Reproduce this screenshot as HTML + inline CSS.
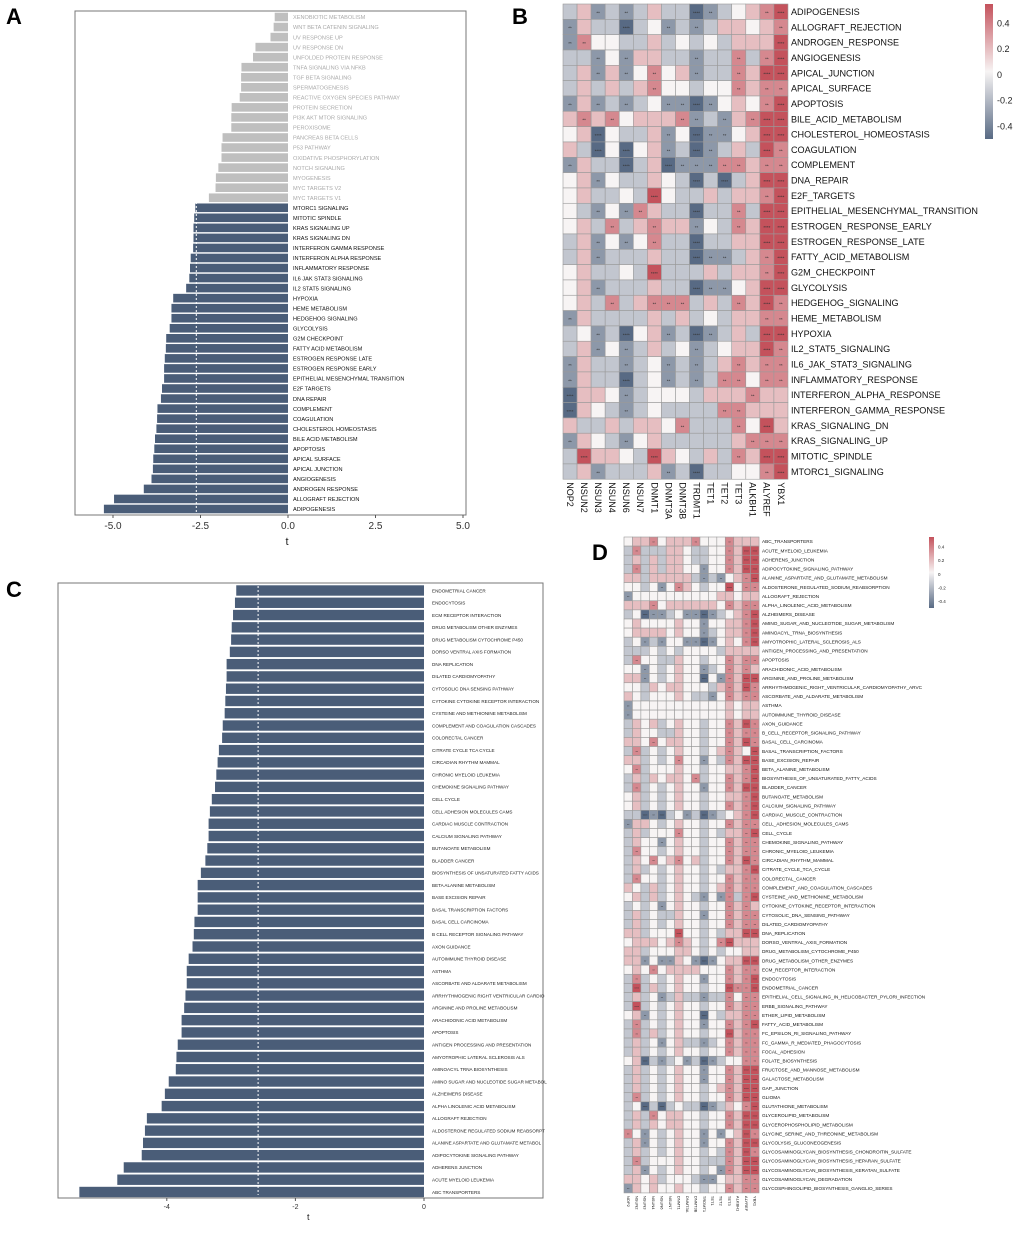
<!DOCTYPE html>
<html><head><meta charset="utf-8">
<style>
html,body{margin:0;padding:0;background:#fff;}
svg{display:block;font-family:"Liberation Sans",sans-serif;}
</style></head>
<body>
<svg id="fig" width="1020" height="1233" viewBox="0 0 1020 1233" xmlns="http://www.w3.org/2000/svg">
<text x="6" y="24" font-size="22" font-weight="bold">A</text>
<text x="512" y="24" font-size="22" font-weight="bold">B</text>
<text x="6" y="597" font-size="22" font-weight="bold">C</text>
<text x="592" y="560" font-size="22" font-weight="bold">D</text>
<g id="pa"></g>
<g id="pb"></g>
<g id="pc"></g>
<g id="pd"></g>
</svg>
<script>
// ---------- Panel A data ----------
const aLabels=["XENOBIOTIC METABOLISM","WNT BETA CATENIN SIGNALING","UV RESPONSE UP","UV RESPONSE DN","UNFOLDED PROTEIN RESPONSE","TNFA SIGNALING VIA NFKB","TGF BETA SIGNALING","SPERMATOGENESIS","REACTIVE OXYGEN SPECIES PATHWAY","PROTEIN SECRETION","PI3K AKT MTOR SIGNALING","PEROXISOME","PANCREAS BETA CELLS","P53 PATHWAY","OXIDATIVE PHOSPHORYLATION","NOTCH SIGNALING","MYOGENESIS","MYC TARGETS V2","MYC TARGETS V1","MTORC1 SIGNALING","MITOTIC SPINDLE","KRAS SIGNALING UP","KRAS SIGNALING DN","INTERFERON GAMMA RESPONSE","INTERFERON ALPHA RESPONSE","INFLAMMATORY RESPONSE","IL6 JAK STAT3 SIGNALING","IL2 STAT5 SIGNALING","HYPOXIA","HEME METABOLISM","HEDGEHOG SIGNALING","GLYCOLYSIS","G2M CHECKPOINT","FATTY ACID METABOLISM","ESTROGEN RESPONSE LATE","ESTROGEN RESPONSE EARLY","EPITHELIAL MESENCHYMAL TRANSITION","E2F TARGETS","DNA REPAIR","COMPLEMENT","COAGULATION","CHOLESTEROL HOMEOSTASIS","BILE ACID METABOLISM","APOPTOSIS","APICAL SURFACE","APICAL JUNCTION","ANGIOGENESIS","ANDROGEN RESPONSE","ALLOGRAFT REJECTION","ADIPOGENESIS"];
const aValues=[-0.38,-0.41,-0.5,-0.93,-1.0,-1.33,-1.34,-1.34,-1.38,-1.61,-1.62,-1.62,-1.87,-1.9,-1.9,-1.99,-2.06,-2.07,-2.26,-2.65,-2.68,-2.7,-2.7,-2.71,-2.78,-2.8,-2.82,-2.91,-3.28,-3.33,-3.33,-3.38,-3.48,-3.49,-3.52,-3.54,-3.54,-3.6,-3.63,-3.73,-3.74,-3.76,-3.8,-3.82,-3.85,-3.86,-3.9,-4.12,-4.97,-5.26];
const aTicks=[-5,-2.5,0,2.5,5];
const aTickLabels=["-5.0","-2.5","0.0","2.5","5.0"];
const aThreshold=-2.62;

// ---------- Panel C data ----------
const cLabels=["ENDOMETRIAL CANCER","ENDOCYTOSIS","ECM RECEPTOR INTERACTION","DRUG METABOLISM OTHER ENZYMES","DRUG METABOLISM CYTOCHROME P450","DORSO VENTRAL AXIS FORMATION","DNA REPLICATION","DILATED CARDIOMYOPATHY","CYTOSOLIC DNA SENSING PATHWAY","CYTOKINE CYTOKINE RECEPTOR INTERACTION","CYSTEINE AND METHIONINE METABOLISM","COMPLEMENT AND COAGULATION CASCADES","COLORECTAL CANCER","CITRATE CYCLE TCA CYCLE","CIRCADIAN RHYTHM MAMMAL","CHRONIC MYELOID LEUKEMIA","CHEMOKINE SIGNALING PATHWAY","CELL CYCLE","CELL ADHESION MOLECULES CAMS","CARDIAC MUSCLE CONTRACTION","CALCIUM SIGNALING PATHWAY","BUTANOATE METABOLISM","BLADDER CANCER","BIOSYNTHESIS OF UNSATURATED FATTY ACIDS","BETA ALANINE METABOLISM","BASE EXCISION REPAIR","BASAL TRANSCRIPTION FACTORS","BASAL CELL CARCINOMA","B CELL RECEPTOR SIGNALING PATHWAY","AXON GUIDANCE","AUTOIMMUNE THYROID DISEASE","ASTHMA","ASCORBATE AND ALDARATE METABOLISM","ARRHYTHMOGENIC RIGHT VENTRICULAR CARDIO","ARGININE AND PROLINE METABOLISM","ARACHIDONIC ACID METABOLISM","APOPTOSIS","ANTIGEN PROCESSING AND PRESENTATION","AMYOTROPHIC LATERAL SCLEROSIS ALS","AMINOACYL TRNA BIOSYNTHESIS","AMINO SUGAR AND NUCLEOTIDE SUGAR METABOL","ALZHEIMERS DISEASE","ALPHA LINOLENIC ACID METABOLISM","ALLOGRAFT REJECTION","ALDOSTERONE REGULATED SODIUM REABSORPT","ALANINE ASPARTATE AND GLUTAMATE METABOL","ADIPOCYTOKINE SIGNALING PATHWAY","ADHERENS JUNCTION","ACUTE MYELOID LEUKEMIA","ABC TRANSPORTERS"];
const cValues=[-2.92,-2.94,-2.97,-2.99,-3.0,-3.02,-3.07,-3.07,-3.08,-3.09,-3.1,-3.13,-3.14,-3.19,-3.21,-3.23,-3.25,-3.3,-3.33,-3.35,-3.35,-3.37,-3.4,-3.47,-3.52,-3.52,-3.52,-3.57,-3.58,-3.6,-3.66,-3.69,-3.69,-3.71,-3.73,-3.77,-3.77,-3.83,-3.85,-3.86,-3.97,-4.03,-4.08,-4.31,-4.34,-4.37,-4.39,-4.67,-4.77,-5.36];
const cTicks=[-4,-2,0];
const cTickLabels=["-4","-2","0"];
const cThreshold=-2.58;

// ---------- Heatmap data (levels 0..6 => -0.45..0.45) ----------
const genes=["NOP2","NSUN2","NSUN3","NSUN4","NSUN6","NSUN7","DNMT1","DNMT3A","DNMT3B","TRDMT1","TET1","TET2","TET3","ALKBH1","ALYREF","YBX1"];
const bRows=["ADIPOGENESIS","ALLOGRAFT_REJECTION","ANDROGEN_RESPONSE","ANGIOGENESIS","APICAL_JUNCTION","APICAL_SURFACE","APOPTOSIS","BILE_ACID_METABOLISM","CHOLESTEROL_HOMEOSTASIS","COAGULATION","COMPLEMENT","DNA_REPAIR","E2F_TARGETS","EPITHELIAL_MESENCHYMAL_TRANSITION","ESTROGEN_RESPONSE_EARLY","ESTROGEN_RESPONSE_LATE","FATTY_ACID_METABOLISM","G2M_CHECKPOINT","GLYCOLYSIS","HEDGEHOG_SIGNALING","HEME_METABOLISM","HYPOXIA","IL2_STAT5_SIGNALING","IL6_JAK_STAT3_SIGNALING","INFLAMMATORY_RESPONSE","INTERFERON_ALPHA_RESPONSE","INTERFERON_GAMMA_RESPONSE","KRAS_SIGNALING_DN","KRAS_SIGNALING_UP","MITOTIC_SPINDLE","MTORC1_SIGNALING"];
const bLevels=["2412124220123456","1422023121244345","1533224232324446","2213144221225256","2414135341225466","2424245332335455","1412123110134356","4545344451214566","3403224130113466","4203034120124265","1422024011155455","3413224320202466","3422326322424456","3213154220225266","3425245441325466","2413135220224466","2412224220112456","3422326222424456","3412224220113466","3425245552425465","1422224242324455","2312034120124266","2413124231234465","1422123121245455","1422023121255355","0443123332444544","0432123222255444","4224244352225364","1432134222224555","2644326432425466","2412224120223356"];
const bColTicks=[0.4,0.2,0,-0.2,-0.4];
const dRows=["ABC_TRANSPORTERS","ACUTE_MYELOID_LEUKEMIA","ADHERENS_JUNCTION","ADIPOCYTOKINE_SIGNALING_PATHWAY","ALANINE_ASPARTATE_AND_GLUTAMATE_METABOLISM","ALDOSTERONE_REGULATED_SODIUM_REABSORPTION","ALLOGRAFT_REJECTION","ALPHA_LINOLENIC_ACID_METABOLISM","ALZHEIMERS_DISEASE","AMINO_SUGAR_AND_NUCLEOTIDE_SUGAR_METABOLISM","AMINOACYL_TRNA_BIOSYNTHESIS","AMYOTROPHIC_LATERAL_SCLEROSIS_ALS","ANTIGEN_PROCESSING_AND_PRESENTATION","APOPTOSIS","ARACHIDONIC_ACID_METABOLISM","ARGININE_AND_PROLINE_METABOLISM","ARRHYTHMOGENIC_RIGHT_VENTRICULAR_CARDIOMYOPATHY_ARVC","ASCORBATE_AND_ALDARATE_METABOLISM","ASTHMA","AUTOIMMUNE_THYROID_DISEASE","AXON_GUIDANCE","B_CELL_RECEPTOR_SIGNALING_PATHWAY","BASAL_CELL_CARCINOMA","BASAL_TRANSCRIPTION_FACTORS","BASE_EXCISION_REPAIR","BETA_ALANINE_METABOLISM","BIOSYNTHESIS_OF_UNSATURATED_FATTY_ACIDS","BLADDER_CANCER","BUTANOATE_METABOLISM","CALCIUM_SIGNALING_PATHWAY","CARDIAC_MUSCLE_CONTRACTION","CELL_ADHESION_MOLECULES_CAMS","CELL_CYCLE","CHEMOKINE_SIGNALING_PATHWAY","CHRONIC_MYELOID_LEUKEMIA","CIRCADIAN_RHYTHM_MAMMAL","CITRATE_CYCLE_TCA_CYCLE","COLORECTAL_CANCER","COMPLEMENT_AND_COAGULATION_CASCADES","CYSTEINE_AND_METHIONINE_METABOLISM","CYTOKINE_CYTOKINE_RECEPTOR_INTERACTION","CYTOSOLIC_DNA_SENSING_PATHWAY","DILATED_CARDIOMYOPATHY","DNA_REPLICATION","DORSO_VENTRAL_AXIS_FORMATION","DRUG_METABOLISM_CYTOCHROME_P450","DRUG_METABOLISM_OTHER_ENZYMES","ECM_RECEPTOR_INTERACTION","ENDOCYTOSIS","ENDOMETRIAL_CANCER","EPITHELIAL_CELL_SIGNALING_IN_HELICOBACTER_PYLORI_INFECTION","ERBB_SIGNALING_PATHWAY","ETHER_LIPID_METABOLISM","FATTY_ACID_METABOLISM","FC_EPSILON_RI_SIGNALING_PATHWAY","FC_GAMMA_R_MEDIATED_PHAGOCYTOSIS","FOCAL_ADHESION","FOLATE_BIOSYNTHESIS","FRUCTOSE_AND_MANNOSE_METABOLISM","GALACTOSE_METABOLISM","GAP_JUNCTION","GLIOMA","GLUTATHIONE_METABOLISM","GLYCEROLIPID_METABOLISM","GLYCEROPHOSPHOLIPID_METABOLISM","GLYCINE_SERINE_AND_THREONINE_METABOLISM","GLYCOLYSIS_GLUCONEOGENESIS","GLYCOSAMINOGLYCAN_BIOSYNTHESIS_CHONDROITIN_SULFATE","GLYCOSAMINOGLYCAN_BIOSYNTHESIS_HEPARAN_SULFATE","GLYCOSAMINOGLYCAN_BIOSYNTHESIS_KERATAN_SULFATE","GLYCOSAMINOGLYCAN_DEGRADATION","GLYCOSPHINGOLIPID_BIOSYNTHESIS_GANGLIO_SERIES"];
const dLevels=["3445344453335444","2522244322335466","2424244322335466","2524244331335466","4424444421213456","3323135432336355","1333333333344344","4445344444435455","2301123110123456","3433334331334456","3444434331234456","2312133110134356","2223232333324444","2533224332335455","3313234331235454","4413234330315466","3324344333245465","4323334322135455","1333333333334344","1333333333334344","2434234332335465","2433224332335455","4435344332335465","2523234332345436","4423235331325466","3523334332334456","2424344352335456","2523234331335466","3423234332334456","3423234332335456","2201023120123456","1443234332335455","2423335332324456","2433134332335455","2533234332335455","2435345342335465","2423234332324456","2533234332335455","4324234332345455","3424234321315256","2323134332335454","2423224331335455","2423234332335455","4423336332324466","3444345432356444","4423334432323344","4413114310134466","3435344443335455","2523234331335456","2624234332336556","2423124221225355","2623234332335455","3413234330324455","2523234331335456","2524234332336455","2423134221235455","2423234332335455","3402123120123355","2423234331335466","2423234331335466","2423234332345466","2523234332335466","2302023220124356","2425344332335466","2424344332335466","5313234331313465","2413234331335466","2423234332325465","2523334332225466","2413234332315466","4434233321134455","1434334332335455"];

function col(level){
  const v=(level-3)/3;
  const w=[247,244,244], r=[196,82,92], b=[88,106,132];
  const t=Math.abs(v), e=v>=0?r:b;
  return "rgb("+w.map((c,i)=>Math.round(c+(e[i]-c)*t)).join(",")+")";
}
const NS="http://www.w3.org/2000/svg";
function mk(tag,attrs,parent,txt){const el=document.createElementNS(NS,tag);for(const k in attrs)el.setAttribute(k,attrs[k]);if(txt!==undefined)el.textContent=txt;parent.appendChild(el);return el;}

// ---------- Panel A ----------
(function(){
  const g=document.getElementById('pa');
  const x0=75,x1=466,y0=11,y1=515;
  const xA=v=>288+v*35;
  const yA=i=>17+i*(492/49);
  const bg=mk('rect',{x:x0,y:y0,width:x1-x0,height:y1-y0,fill:'#fff',stroke:'#777','stroke-width':1},g);
  
  
  aValues.forEach((v,i)=>{
    const dark=i>=19;
    const r=mk('rect',{x:xA(v),y:yA(i)-4.3,width:xA(0)-xA(v),height:8.6,fill:dark?'#4a5d78':'#bfbfbf'},g);
    
    
    const t=mk('text',{x:xA(0)+5,y:yA(i)+2.2,'font-size':5.6,fill:dark?'#111':'#aaa'},g,aLabels[i]);
    
    
  });
  const th=mk('line',{x1:xA(aThreshold),x2:xA(aThreshold),y1:y0+3,y2:y1-3,stroke:'#fff','stroke-width':1,'stroke-dasharray':'2,2'},g);
  
  
  aTicks.forEach((v,i)=>{
    mk('line',{x1:xA(v),x2:xA(v),y1:y1,y2:y1+3,stroke:'#555'},g);
    const t=mk('text',{x:xA(v),y:y1+14,'font-size':10,'text-anchor':'middle',fill:'#333'},g,aTickLabels[i]);
    
    
  });
  const xt=mk('text',{x:xA(0)-1,y:y1+30,'font-size':11,'text-anchor':'middle',fill:'#222'},g,'t');
  
  
})();

// ---------- Panel C ----------
(function(){
  const g=document.getElementById('pc');
  const x0=58,x1=543,y0=583,y1=1198;
  const xC=v=>424+v*64.3;
  const yC=i=>590.5+i*(601.5/49);
  const bg=mk('rect',{x:x0,y:y0,width:x1-x0,height:y1-y0,fill:'#fff',stroke:'#777','stroke-width':1},g);
  
  
  cValues.forEach((v,i)=>{
    const r=mk('rect',{x:xC(v),y:yC(i)-5.2,width:xC(0)-xC(v),height:10.4,fill:'#4a5d78'},g);
    
    
    const t=mk('text',{x:xC(0)+8,y:yC(i)+1.8,'font-size':4.6,fill:'#222'},g,cLabels[i]);
    
    
  });
  const th=mk('line',{x1:xC(cThreshold),x2:xC(cThreshold),y1:y0+3,y2:y1-3,stroke:'#fff','stroke-width':1,'stroke-dasharray':'2,2'},g);
  
  
  cTicks.forEach((v,i)=>{
    mk('line',{x1:xC(v),x2:xC(v),y1:y1,y2:y1+3,stroke:'#555'},g);
    const t=mk('text',{x:xC(v),y:y1+11,'font-size':7,'text-anchor':'middle',fill:'#333'},g,cTickLabels[i]);
    
    
  });
  const xt=mk('text',{x:xC(-1.8),y:y1+22,'font-size':9,'text-anchor':'middle',fill:'#222'},g,'t');
  
  
})();

// ---------- Heatmap builder ----------
function heat(g,rows,levels,x0,y0,cw,rh,lblSize,geneSize,starSize,prefix){
  levels.forEach((s,ri)=>{
    for(let ci=0;ci<genes.length;ci++){
      const lv=+s[ci];
      const r=mk('rect',{x:x0+ci*cw,y:y0+ri*rh,width:cw,height:rh,fill:col(lv),stroke:'#9a9a9a','stroke-width':0.6},g);
      
      
      const d=Math.abs(lv-3);
      if(d>=2){
        const st=mk('text',{x:x0+ci*cw+cw/2,y:y0+ri*rh+rh/2+starSize*0.6,'font-size':starSize,'text-anchor':'middle',fill:'#333'},g,'*'.repeat(d===3?4:2));
        
        
      }
    }
    const t=mk('text',{x:x0+genes.length*cw+3,y:y0+ri*rh+rh/2+lblSize*0.36,'font-size':lblSize,fill:'#111'},g,rows[ri]);
    
    
  });
  const yb=y0+levels.length*rh+3;
  genes.forEach((gn,ci)=>{
    const cx=x0+ci*cw+cw/2-geneSize*0.35;
    const t=mk('text',{x:cx,y:yb,'font-size':geneSize,fill:'#111',transform:'rotate(90 '+cx+' '+yb+')'},g,gn);
    
    
  });
}
function cbar(g,x,y,w,h,fs,prefix){
  const defs=mk('defs',{},g);
  const lg=mk('linearGradient',{id:prefix+'grad',x1:0,y1:0,x2:0,y2:1},defs);
  [6,5,4,3,2,1,0].forEach((lv,i)=>mk('stop',{offset:(i/6),'stop-color':col(lv)},lg));
  const r=mk('rect',{x:x,y:y,width:w,height:h,fill:'url(#'+prefix+'grad)'},g);
  
  
  bColTicks.forEach(v=>{
    const yy=y+h*(0.55-v)/1.05;
    const t=mk('text',{x:x+w+4,y:yy+fs*0.35,'font-size':fs,fill:'#222'},g,v===0?'0':String(v));
    
    
  });
}
heat(document.getElementById('pb'),bRows,bLevels,563,4,14.06,15.33,9.1,9,4.5,'panel-b');
cbar(document.getElementById('pb'),985,4,8,135,9,'pb');
heat(document.getElementById('pd'),dRows,dLevels,624,537,8.44,9.11,4.7,4,3,'panel-d');
cbar(document.getElementById('pd'),929,537,5,71,4.5,'pd');
</script>
</body></html>
